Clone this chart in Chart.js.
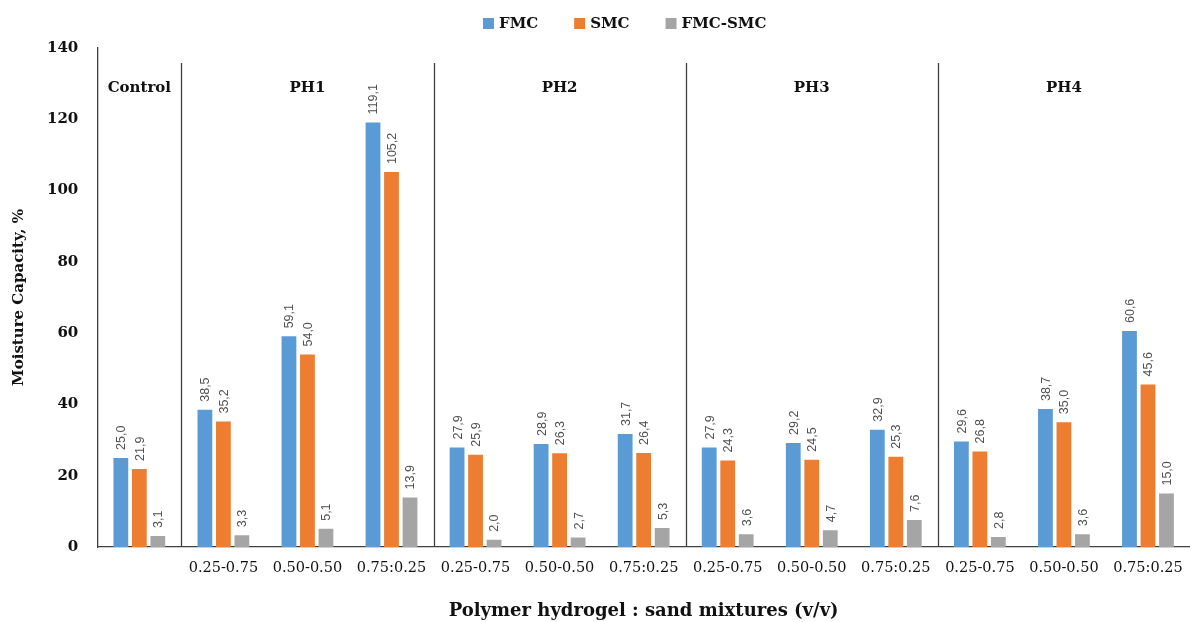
<!DOCTYPE html>
<html>
<head>
<meta charset="utf-8">
<script src="https://cdn.jsdelivr.net/npm/chart.js@4.4.0/dist/chart.umd.min.js"></script>
<style>
  body { margin: 0; background: #fff; }
  #wrap { width: 1190px; height: 622px; }
</style>
</head>
<body>
<div id="wrap"><canvas id="grafik" width="1190" height="622"></canvas></div>
<script>
// categories (first one is the control, no tick text)
const labels = ["", "0.25-0.75", "0.50-0.50", "0.75:0.25",
  "0.25-0.75", "0.50-0.50", "0.75:0.25",
  "0.25-0.75", "0.50-0.50", "0.75:0.25",
  "0.25-0.75", "0.50-0.50", "0.75:0.25"];

const fmc    = [25.0, 38.5, 59.1, 119.1, 27.9, 28.9, 31.7, 27.9, 29.2, 32.9, 29.6, 38.7, 60.6];
const smc    = [21.9, 35.2, 54.0, 105.2, 25.9, 26.3, 26.4, 24.3, 24.5, 25.3, 26.8, 35.0, 45.6];
const selisih = [3.1, 3.3, 5.1, 13.9, 2.0, 2.7, 5.3, 3.6, 4.7, 7.6, 2.8, 3.6, 15.0];

// group headers: name + first/last category index
const groups = [
  { name: "Control", from: 0, to: 0 },
  { name: "PH1", from: 1, to: 3 },
  { name: "PH2", from: 4, to: 6 },
  { name: "PH3", from: 7, to: 9 },
  { name: "PH4", from: 10, to: 12 }
];

const yTicks = [0, 20, 40, 60, 80, 100, 120, 140];

const serif = "'DejaVu Serif', 'Liberation Serif', serif";

// legend, separators, group names and rotated value labels
const hiasan = {
  id: "hiasan",
  afterDatasetsDraw(chart) {
    const { ctx, chartArea, scales } = chart;
    const x = scales.x;
    const half = (x.getPixelForTick(1) - x.getPixelForTick(0)) / 2;
    ctx.save();

    // legend on top (drawn by hand so the spacing matches)
    ctx.font = "bold 15px " + serif;
    ctx.textBaseline = "middle";
    ctx.textAlign = "left";
    const gap = 36, kotak = 11;
    const lebar = chart.data.datasets.map(ds => kotak + 5 + ctx.measureText(ds.label).width);
    const total = lebar.reduce((a, b) => a + b, 0) + gap * (lebar.length - 1);
    let lx = (chartArea.left + chartArea.right) / 2 - total / 2 - 19;
    chart.data.datasets.forEach((ds, i) => {
      ctx.fillStyle = ds.backgroundColor;
      ctx.fillRect(lx, 18, kotak, kotak);
      ctx.fillStyle = "#111";
      ctx.fillText(ds.label, lx + kotak + 5, 24);
      lx += lebar[i] + gap;
    });

    // vertical separators between groups
    ctx.strokeStyle = "#404040";
    ctx.lineWidth = 1.3;
    groups.slice(1).forEach(g => {
      const px = Math.round(x.getPixelForTick(g.from) - half) + 0.5;
      ctx.beginPath();
      ctx.moveTo(px, chartArea.top + 15);
      ctx.lineTo(px, chartArea.bottom);
      ctx.stroke();
    });

    // group names
    ctx.fillStyle = "#111";
    ctx.font = "bold 15px " + serif;
    ctx.textAlign = "center";
    groups.forEach(g => {
      const cx = (x.getPixelForTick(g.from) + x.getPixelForTick(g.to)) / 2;
      ctx.fillText(g.name, cx, chartArea.top + 40);
    });

    // value labels
    ctx.font = "12.5px 'Liberation Sans', Arial, sans-serif";
    ctx.fillStyle = "#505050";
    ctx.textAlign = "left";
    chart.data.datasets.forEach((ds, di) => {
      chart.getDatasetMeta(di).data.forEach((bar, i) => {
        const txt = ds.data[i].toFixed(1).replace(".", ",");
        ctx.save();
        ctx.translate(bar.x + 1, bar.y - 8);
        ctx.rotate(-Math.PI / 2);
        ctx.fillText(txt, 0, 0);
        ctx.restore();
      });
    });
    ctx.restore();
  }
};

new Chart(document.getElementById("grafik"), {
  type: "bar",
  data: {
    labels: labels,
    datasets: [
      { label: "FMC", data: fmc, backgroundColor: "#5B9BD5" },
      { label: "SMC", data: smc, backgroundColor: "#ED7D31" },
      { label: "FMC-SMC", data: selisih, backgroundColor: "#A5A5A5" }
    ]
  },
  options: {
    responsive: false,
    animation: false,
    layout: { padding: { left: 10, right: 0, top: 48, bottom: 0 } },
    datasets: { bar: { categoryPercentage: 0.66, barPercentage: 0.8 } },
    plugins: {
      legend: { display: false },
      tooltip: { enabled: false }
    },
    scales: {
      x: {
        // the tick labels fit inside their categories, no extra side padding
        afterFit: s => { s.paddingLeft = 0; s.paddingRight = 0; },
        grid: { display: false, drawTicks: false },
        border: { display: true, color: "#404040", width: 1.3 },
        ticks: { color: "#111", font: { family: serif, size: 14.5 }, padding: 13, maxRotation: 0, autoSkip: false },
        title: {
          display: true, text: "Polymer hydrogel : sand mixtures (v/v)",
          color: "#111", font: { family: serif, weight: "bold", size: 18 },
          padding: { top: 10, bottom: 0 }
        }
      },
      y: {
        min: 0, max: 140,
        afterBuildTicks: axis => { axis.ticks = yTicks.map(v => ({ value: v })); },
        grid: { display: false, drawTicks: false },
        border: { display: true, color: "#404040", width: 1.3 },
        ticks: { color: "#111", font: { family: serif, weight: "bold", size: 15 }, padding: 19 },
        title: {
          display: true, text: "Moisture Capacity, %",
          color: "#111", font: { family: serif, weight: "bold", size: 15 },
          padding: { top: 0, bottom: 0 }
        }
      }
    }
  },
  plugins: [hiasan]
});
</script>
</body>
</html>
